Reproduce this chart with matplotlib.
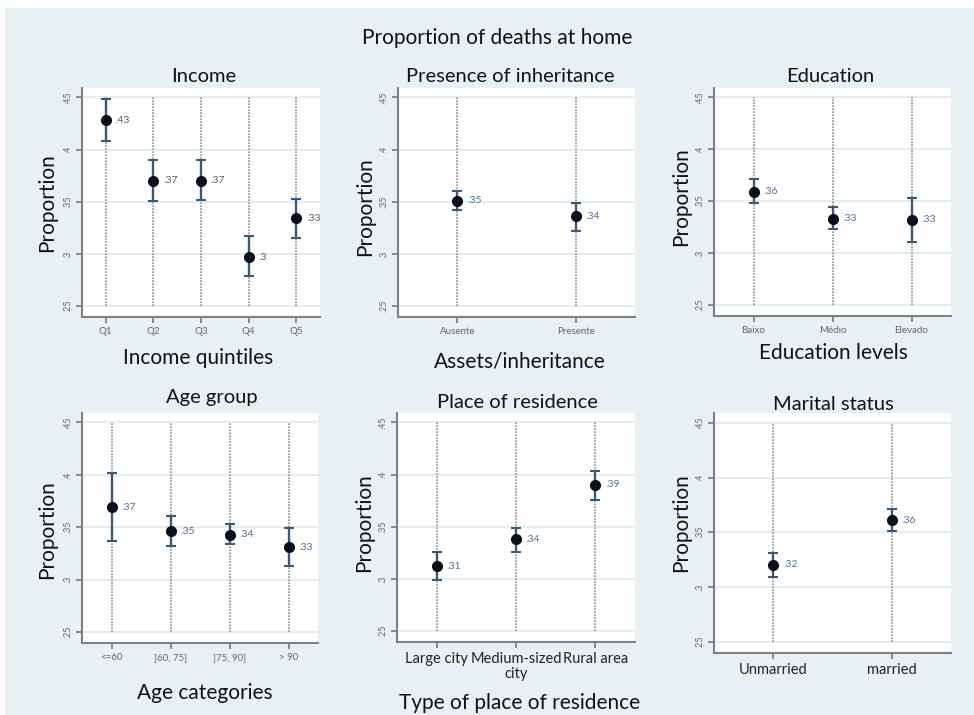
import matplotlib
matplotlib.use("Agg")
import matplotlib.pyplot as plt
from matplotlib.patches import Rectangle

plt.rcParams['font.family'] = ['Lato', 'DejaVu Sans']

W, H = 974, 715

### Data ###
income_cats = ["Q1", "Q2", "Q3", "Q4", "Q5"]
income_est = [0.428, 0.370, 0.370, 0.297, 0.334]
income_lo = [0.408, 0.351, 0.352, 0.279, 0.315]
income_hi = [0.448, 0.390, 0.390, 0.317, 0.353]

inher_cats = ["Ausente", "Presente"]
inher_est = [0.351, 0.336]
inher_lo = [0.342, 0.322]
inher_hi = [0.360, 0.349]

educ_cats = ["Baixo", "Médio", "Elevado"]
educ_est = [0.359, 0.333, 0.332]
educ_lo = [0.348, 0.323, 0.311]
educ_hi = [0.371, 0.344, 0.353]

age_cats = ["<=60", "]60, 75]", "]75, 90]", "> 90"]
age_est = [0.369, 0.346, 0.343, 0.331]
age_lo = [0.337, 0.332, 0.334, 0.313]
age_hi = [0.402, 0.361, 0.353, 0.349]

place_cats = ["Large city", "Medium-sized\ncity", "Rural area"]
place_est = [0.312, 0.338, 0.390]
place_lo = [0.299, 0.326, 0.376]
place_hi = [0.326, 0.349, 0.403]

marital_cats = ["Unmarried", "married"]
marital_est = [0.320, 0.361]
marital_lo = [0.309, 0.351]
marital_hi = [0.331, 0.371]

yticks = [0.25, 0.30, 0.35, 0.40, 0.45]
ytick_labels = [".25", ".3", ".35", ".4", ".45"]

### Layout helpers (pixel based) ###
def rect(left, top, right, bottom):
    return [left / W, 1 - bottom / H, (right - left) / W, (bottom - top) / H]

def fx(x):
    return x / W

def fy(y):
    return 1 - y / H

fig = plt.figure(figsize=(W / 100, H / 100), dpi=100)
fig.patch.set_facecolor("white")
fig.patches.append(Rectangle((fx(5), 0), 1 - fx(5), fy(8), transform=fig.transFigure,
                             facecolor="#e9f0f3", edgecolor="none", zorder=-10))

fig.text(fx(497), fy(38), "Proportion of deaths at home", ha="center", va="center",
         fontsize=15, color="#111111")

panels = [
    dict(cats=income_cats, est=income_est, lo=income_lo, hi=income_hi,
         box=(82, 88, 320, 317), title="Income", tpos=(204, 77),
         xlabel="Income quintiles", xlpos=(198, 358), ylpos=(47, 203),
         big_ticks=False, lab_color="#5a5a5a"),
    dict(cats=inher_cats, est=inher_est, lo=inher_lo, hi=inher_hi,
         box=(398, 88, 635, 317), title="Presence of inheritance", tpos=(510, 77),
         xlabel="Assets/inheritance", xlpos=(520, 362), ylpos=(365, 207),
         big_ticks=False, lab_color="#4f6d92"),
    dict(cats=educ_cats, est=educ_est, lo=educ_lo, hi=educ_hi,
         box=(714, 88, 951, 316), title="Education", tpos=(830, 77),
         xlabel="Education levels", xlpos=(833, 353), ylpos=(681, 197),
         big_ticks=False, lab_color="#4f6d92"),
    dict(cats=age_cats, est=age_est, lo=age_lo, hi=age_hi,
         box=(82, 413, 318, 643), title="Age group", tpos=(212, 397),
         xlabel="Age categories", xlpos=(205, 693), ylpos=(47, 530),
         big_ticks=False, lab_color="#4f6d92"),
    dict(cats=place_cats, est=place_est, lo=place_lo, hi=place_hi,
         box=(397, 413, 635, 642), title="Place of residence", tpos=(517, 403),
         xlabel="Type of place of residence", xlpos=(520, 703), ylpos=(364, 523),
         big_ticks=True, lab_color="#4f6d92"),
    dict(cats=marital_cats, est=marital_est, lo=marital_lo, hi=marital_hi,
         box=(714, 413, 951, 653), title="Marital status", tpos=(833, 405),
         xlabel=None, xlpos=None, ylpos=(681, 523),
         big_ticks=True, lab_color="#4f6d92"),
]

for p in panels:
    ax = fig.add_axes(rect(*p["box"]))
    ax.set_facecolor("white")
    n = len(p["cats"])
    xs = list(range(1, n + 1))

    # horizontal grid and vertical dotted category lines
    for yv in yticks:
        ax.axhline(yv, color="#e4eef1", lw=1.6, zorder=0)
    ax.vlines(xs, 0.25, 0.45, colors="#8f8f8f", linestyles=(0, (1, 0.8)), lw=1.2, zorder=1)

    yerr = [[e - l for e, l in zip(p["est"], p["lo"])],
            [h - e for e, h in zip(p["est"], p["hi"])]]
    ax.errorbar(xs, p["est"], yerr=yerr, fmt="none", ecolor="#3c5874",
                elinewidth=1.7, capsize=3.5, capthick=1.5, zorder=2)
    ax.plot(xs, p["est"], "o", color="#0a0f1a", ms=7, zorder=3)
    for x, v in zip(xs, p["est"]):
        ax.annotate(("%.2f" % v).lstrip("0").rstrip("0").rstrip("."),
                    (x, v), xytext=(7, 0), textcoords="offset points",
                    ha="left", va="center", fontsize=7.5, color=p["lab_color"])

    ax.set_xlim(0.5, n + 0.5)
    ax.set_ylim(0.2395, 0.459)
    ax.set_yticks(yticks)
    ax.set_yticklabels(ytick_labels, rotation=90, va="center",
                       fontsize=6.5, color="#666666")
    ax.set_xticks(xs)
    if p["big_ticks"]:
        ax.set_xticklabels(p["cats"], fontsize=10.5, color="#222222", linespacing=1.15)
    else:
        ax.set_xticklabels(p["cats"], fontsize=7, color="#666666")
    ax.tick_params(axis="both", direction="out", length=4, width=1.2, color="#777777", pad=3)

    for s in ["top", "right"]:
        ax.spines[s].set_visible(False)
    for s in ["left", "bottom"]:
        ax.spines[s].set_color("#808080")
        ax.spines[s].set_linewidth(1.5)

    fig.text(fx(p["tpos"][0]), fy(p["tpos"][1]), p["title"], ha="center", va="center",
             fontsize=14.5, color="#111111")
    if p["xlabel"]:
        fig.text(fx(p["xlpos"][0]), fy(p["xlpos"][1]), p["xlabel"], ha="center",
                 va="center", fontsize=15, color="#111111")
    fig.text(fx(p["ylpos"][0]), fy(p["ylpos"][1]), "Proportion", ha="center",
             va="center", rotation=90, fontsize=15, color="#111111")

fig.savefig("out.png", dpi=100)
